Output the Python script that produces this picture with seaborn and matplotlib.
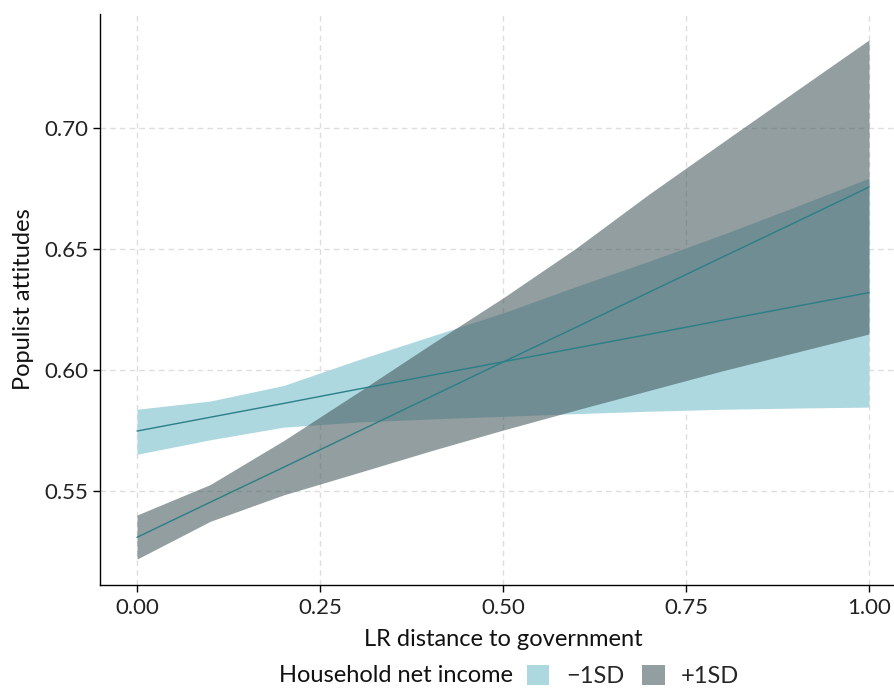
import matplotlib
matplotlib.use("Agg")
import matplotlib.pyplot as plt
from matplotlib.patches import Patch
import seaborn as sns
import pandas as pd

# ---- data ----
x_vals = [0.0, 0.1, 0.2, 0.3, 0.4, 0.5, 0.6, 0.7, 0.8, 0.9, 1.0]

low_fit = [0.5748, 0.5805, 0.5862, 0.5920, 0.5977, 0.6034, 0.6091, 0.6148, 0.6206, 0.6263, 0.6320]
low_lo = [0.5652, 0.5712, 0.5764, 0.5785, 0.5798, 0.5809, 0.5820, 0.5830, 0.5838, 0.5843, 0.5847]
low_hi = [0.5838, 0.5872, 0.5936, 0.6040, 0.6138, 0.6236, 0.6345, 0.6450, 0.6560, 0.6675, 0.6793]

high_fit = [0.5309, 0.5454, 0.5598, 0.5743, 0.5888, 0.6033, 0.6177, 0.6322, 0.6467, 0.6611, 0.6756]
high_lo = [0.5219, 0.5375, 0.5484, 0.5574, 0.5665, 0.5752, 0.5835, 0.5916, 0.5997, 0.6073, 0.6149]
high_hi = [0.5401, 0.5527, 0.5708, 0.5904, 0.6103, 0.6298, 0.6504, 0.6728, 0.6941, 0.7153, 0.7364]

group_labels = ["\u22121SD", "+1SD"]
legend_title = "Household net income"
x_label = "LR distance to government"
y_label = "Populist attitudes"
x_ticks = [0.0, 0.25, 0.5, 0.75, 1.0]
y_ticks = [0.55, 0.60, 0.65, 0.70]

# ---- style ----
sns.set_theme(style="white")
plt.rcParams["font.family"] = ["Lato", "DejaVu Sans"]

fill_colors = {group_labels[0]: (173/255, 216/255, 224/255),
               group_labels[1]: (64/255, 85/255, 87/255)}
fill_alpha = {group_labels[0]: 1.0, group_labels[1]: 0.57}
line_color = "#2b7f87"

fig = plt.figure(figsize=(8.94, 6.92), dpi=100)
W, H = 894, 692
ax = fig.add_axes([100.4 / W, (H - 585) / H, 805.2 / W, 571 / H])

df = pd.DataFrame({
    "x": x_vals * 2,
    "fit": low_fit + high_fit,
    "lo": low_lo + high_lo,
    "hi": low_hi + high_hi,
    "group": [group_labels[0]] * len(x_vals) + [group_labels[1]] * len(x_vals),
})

for g in group_labels:
    sub = df[df["group"] == g]
    ax.fill_between(sub["x"], sub["lo"], sub["hi"], color=fill_colors[g],
                    alpha=fill_alpha[g], linewidth=0, zorder=2)

sns.lineplot(data=df, x="x", y="fit", units="group", estimator=None,
             color=line_color, linewidth=1.0, ax=ax, zorder=3, legend=False)

ax.set_xlim(-0.05, 1.05)
ax.set_ylim(0.5112, 0.7471)
ax.set_xticks(x_ticks)
ax.set_xticklabels([f"{v:.2f}" for v in x_ticks])
ax.set_yticks(y_ticks)
ax.set_yticklabels([f"{v:.2f}" for v in y_ticks])

ax.grid(True, color="#dedede", linestyle=(0, (4, 3)), linewidth=1.0, zorder=0)
ax.set_axisbelow(True)
for s in ["top", "right"]:
    ax.spines[s].set_visible(False)
for s in ["left", "bottom"]:
    ax.spines[s].set_color("black")
    ax.spines[s].set_linewidth(1.0)
ax.tick_params(axis="both", which="major", length=5, width=1.0, color="black",
               labelsize=16, labelcolor="#222222", pad=4, bottom=True, left=True)

ax.set_xlabel(x_label, fontsize=17, color="#111111", labelpad=8)
ax.set_ylabel(y_label, fontsize=17, color="#111111", labelpad=7)

# legend
fs_leg = 17
fig.text(513 / W, 1 - 676 / H, legend_title, ha="right", va="center",
         fontsize=fs_leg, color="#111111")
handles = [Patch(facecolor=fill_colors[g], alpha=fill_alpha[g], edgecolor="none")
           for g in group_labels]
fig.legend(handles, group_labels, loc="center left",
           bbox_to_anchor=(527 / W, 1 - 676 / H), ncol=2, frameon=False,
           fontsize=fs_leg, handlelength=0.95, handleheight=0.95, handletextpad=0.7,
           columnspacing=0.76, borderpad=0, borderaxespad=0)

fig.savefig("out.png", dpi=100)
